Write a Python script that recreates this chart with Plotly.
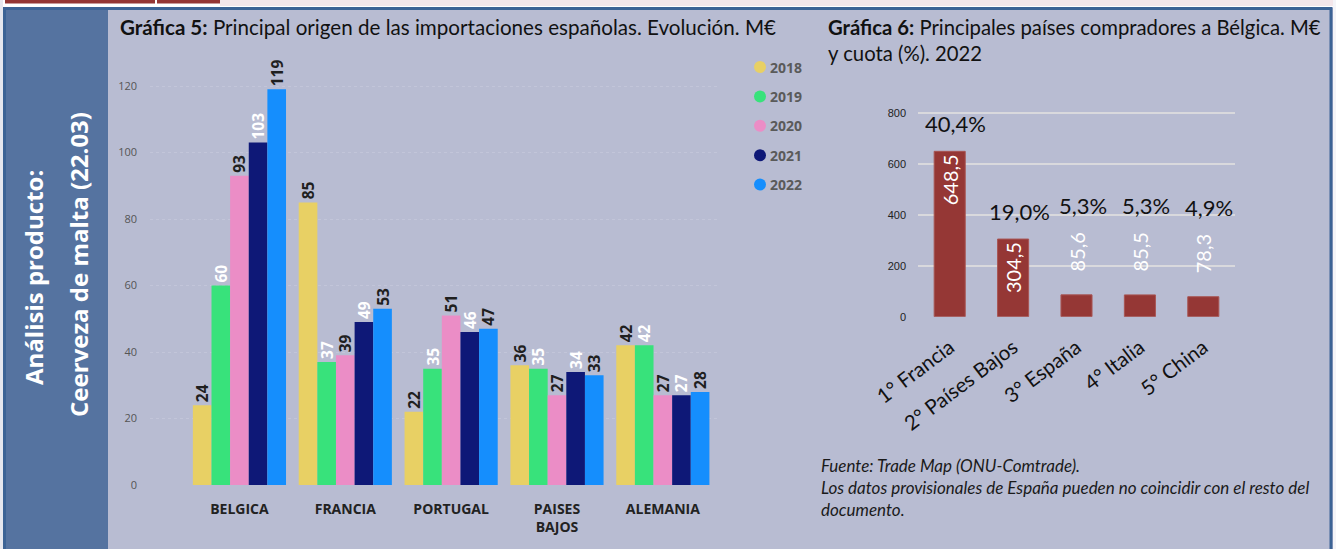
import plotly.graph_objects as go

W, H = 1336, 549

# ---------------- data ----------------
categories = ["BELGICA", "FRANCIA", "PORTUGAL", "PAISES<br>BAJOS", "ALEMANIA"]
years = ["2018", "2019", "2020", "2021", "2022"]
v2018 = [24, 85, 22, 36, 42]
v2019 = [60, 37, 35, 35, 42]
v2020 = [93, 39, 51, 27, 27]
v2021 = [103, 49, 46, 34, 27]
v2022 = [119, 53, 47, 33, 28]
series = [v2018, v2019, v2020, v2021, v2022]

buyers = ["1° Francia", "2° Países Bajos", "3° España", "4° Italia", "5° China"]
buyer_values = [648.5, 304.5, 85.6, 85.5, 78.3]
buyer_shares = [40.4, 19.0, 5.3, 5.3, 4.9]

# ---------------- styles ----------------
year_colors = ["#E8D064", "#38E27B", "#EB8DC6", "#0E1877", "#158EFD"]
label_colors = ["#1f1f1f", "#ffffff", "#1f1f1f", "#ffffff", "#1f1f1f"]
PANEL = "#B8BCD2"
BAND = "#5573A0"
BORDER = "#3C6395"
RED = "#953735"
GILL = "Lato, 'Open Sans', sans-serif"
SEGOE = "'Open Sans', 'Noto Sans', sans-serif"


def px_x(x):
    return x / W


def px_y(y):
    return 1 - y / H


def comma(v, d=1):
    return f"{v:.{d}f}".replace(".", ",")


fig = go.Figure()

# Left chart: grouped bars
for yr, vals, col, lc in zip(years, series, year_colors, label_colors):
    fig.add_trace(go.Bar(
        x=categories, y=vals, name=yr, marker=dict(color=col, line=dict(width=0)),
        text=[str(v) for v in vals], textposition="outside", textangle=-90,
        textfont=dict(color=lc, size=15.5, family=SEGOE, weight="bold"),
        constraintext="none", cliponaxis=False, showlegend=False,
        xaxis="x", yaxis="y", hoverinfo="skip",
    ))

# Right chart: single series
positions = ["inside" if v > 200 else "outside" for v in buyer_values]
value_text = [comma(v) if p == "inside" else "\u00a0\u00a0\u00a0\u00a0" + comma(v)
              for v, p in zip(buyer_values, positions)]
fig.add_trace(go.Bar(
    x=buyers, y=buyer_values, width=0.49,
    marker=dict(color=RED, line=dict(color="#A85553", width=1)),
    text=value_text, textposition=positions,
    insidetextanchor="end", textangle=-90,
    textfont=dict(color="white", size=20, family=GILL),
    constraintext="none", cliponaxis=False, showlegend=False,
    xaxis="x2", yaxis="y2", hoverinfo="skip",
))

shapes = []
annotations = []

# Frame / background pieces
shapes.append(dict(type="rect", xref="paper", yref="paper", x0=0, x1=1,
                   y0=px_y(8), y1=1, fillcolor="white", line=dict(width=0), layer="below"))
shapes.append(dict(type="rect", xref="paper", yref="paper", x0=px_x(220), x1=px_x(1336),
                   y0=px_y(6), y1=px_y(0), fillcolor="#F3E6EA", line=dict(width=0), layer="below"))
for x0, x1 in [(5, 155), (157, 220)]:
    shapes.append(dict(type="rect", xref="paper", yref="paper", x0=px_x(x0), x1=px_x(x1),
                       y0=px_y(3.5), y1=1, fillcolor="#943634", line=dict(width=0), layer="below"))
shapes.append(dict(type="rect", xref="paper", yref="paper", x0=0, x1=px_x(3),
                   y0=0, y1=1, fillcolor="#E6E7EE", line=dict(width=0), layer="below"))
shapes.append(dict(type="rect", xref="paper", yref="paper", x0=px_x(1333), x1=1,
                   y0=0, y1=1, fillcolor="#F4F4F8", line=dict(width=0), layer="below"))
shapes.append(dict(type="rect", xref="paper", yref="paper", x0=px_x(6), x1=px_x(108),
                   y0=0, y1=px_y(9), fillcolor=BAND, line=dict(width=0), layer="below"))
shapes.append(dict(type="rect", xref="paper", yref="paper", x0=px_x(4.5), x1=px_x(1331),
                   y0=px_y(552), y1=px_y(8.5), fillcolor="rgba(0,0,0,0)",
                   line=dict(color=BORDER, width=3), layer="below"))

# Left band vertical text
annotations.append(dict(xref="paper", yref="paper", x=px_x(33), y=px_y(278),
                        xanchor="center", yanchor="middle",
                        text="<b>Análisis producto:</b>", textangle=-90, showarrow=False,
                        font=dict(family=SEGOE, size=24, color="white")))
annotations.append(dict(xref="paper", yref="paper", x=px_x(78), y=px_y(265),
                        xanchor="center", yanchor="middle",
                        text="<b>Ceerveza de malta (22.03)</b>", textangle=-90, showarrow=False,
                        font=dict(family=SEGOE, size=24, color="white")))

# Titles
annotations.append(dict(xref="paper", yref="paper", x=px_x(118), y=px_y(27), xanchor="left",
                        yanchor="middle", showarrow=False, align="left",
                        text="<b>Gráfica 5:</b> Principal origen de las importaciones españolas. Evolución. M€",
                        font=dict(family=GILL, size=20.6, color="#111")))
annotations.append(dict(xref="paper", yref="paper", x=px_x(826), y=px_y(13), xanchor="left",
                        yanchor="top", showarrow=False, align="left",
                        text="<b>Gráfica 6:</b> Principales países compradores a Bélgica. M€<br>y cuota (%). 2022",
                        font=dict(family=GILL, size=20.3, color="#111")))

# Legend (left chart)
for i, (yr, col) in enumerate(zip(years, year_colors)):
    cy = 67 + 29.4 * i
    shapes.append(dict(type="circle", xref="paper", yref="paper",
                       x0=px_x(754), x1=px_x(766), y0=px_y(cy + 6), y1=px_y(cy - 6),
                       fillcolor=col, line=dict(width=0)))
    annotations.append(dict(xref="paper", yref="paper", x=px_x(768), y=px_y(cy),
                            xanchor="left", yanchor="middle", showarrow=False, text=f"<b>{yr}</b>",
                            font=dict(family=SEGOE, size=14, color="#5a5a5a")))

# Share labels (right chart)
for b, v, s, p in zip(buyers, buyer_values, buyer_shares, positions):
    annotations.append(dict(xref="x2", yref="y2", x=b, y=v, xanchor="center", yanchor="bottom",
                            xshift=6, yshift=(12 if p == "inside" else 74), showarrow=False,
                            text=comma(s) + "%", font=dict(family=GILL, size=22, color="#111")))

# Footnote
annotations.append(dict(xref="paper", yref="paper", x=px_x(819), y=px_y(453), xanchor="left",
                        yanchor="top", showarrow=False, align="left",
                        text="<i>Fuente: Trade Map (ONU-Comtrade).<br>Los datos provisionales de España pueden no coincidir con el resto del<br>documento.</i>",
                        font=dict(family=GILL, size=17, color="#1a1a1a")))

fig.update_layout(
    width=W, height=H, autosize=False, margin=dict(l=0, r=0, t=0, b=0, pad=0, autoexpand=False),
    paper_bgcolor=PANEL, plot_bgcolor="rgba(0,0,0,0)",
    barmode="group", bargap=0.12, bargroupgap=0,
    shapes=shapes, annotations=annotations, showlegend=False,
    xaxis=dict(domain=[px_x(150), px_x(720)], range=[-0.845, 4.54], showgrid=False,
               showline=False, zeroline=False, ticks="", ticklabelstandoff=14, automargin=False,
               tickfont=dict(family=SEGOE, size=14, color="#222", weight="bold"),
               fixedrange=True),
    yaxis=dict(domain=[px_y(485), px_y(485 - 130 * 3.325)], range=[0, 130],
               tickvals=[0, 20, 40, 60, 80, 100, 120], showgrid=True,
               gridcolor="rgba(200,204,222,0.6)", griddash="dot", gridwidth=1,
               zeroline=False, showline=False, ticks="", ticklabelstandoff=12, automargin=False,
               tickfont=dict(family=SEGOE, size=11, color="#555")),
    xaxis2=dict(domain=[px_x(918), px_x(1235)], range=[-0.5, 4.5], anchor="y2",
                showgrid=False, showline=False, zeroline=False, ticks="", automargin=False,
                tickangle=-37, ticklabelstandoff=14,
                tickfont=dict(family=GILL, size=20.5, color="#111")),
    yaxis2=dict(domain=[px_y(316.7), px_y(316.7 - 810 * 0.255)], range=[0, 810], anchor="x2",
                tickvals=[0, 200, 400, 600, 800], showgrid=True, gridcolor="#D9D9DD",
                gridwidth=2, zeroline=False, showline=False, ticks="", ticklabelstandoff=11,
                automargin=False,
                tickfont=dict(family="'Liberation Sans', Arial, sans-serif", size=11, color="#222")),
)

fig.write_html("out.html", config={"displayModeBar": False, "staticPlot": True},
               post_script="document.body.style.margin='0';document.body.style.overflow='hidden';")
